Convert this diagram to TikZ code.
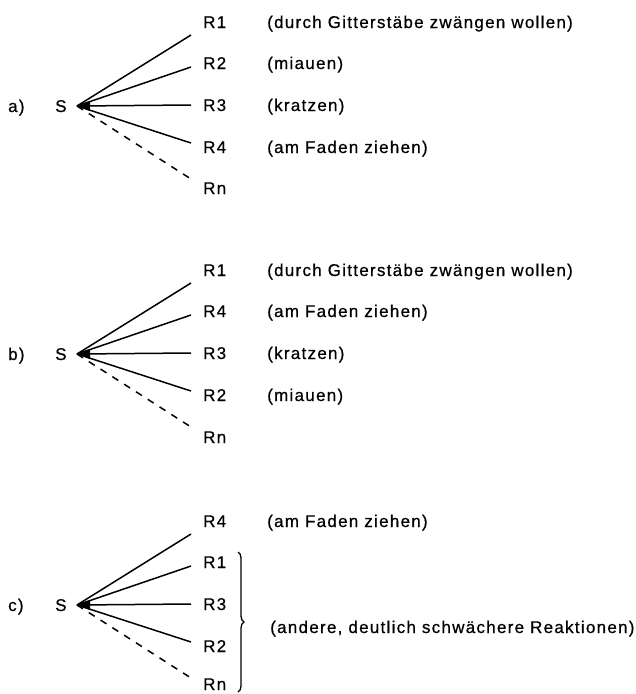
\documentclass[tikz,border=0pt]{standalone}
\usepackage{fontspec}
\setmainfont[LetterSpace=7.5, FakeBold=0.6]{Liberation Sans}
\usetikzlibrary{decorations.pathreplacing}

\tikzset{
  txt/.style={inner sep=0pt, anchor=base west, font=\fontsize{17}{20}\selectfont},
  fanline/.style={line width=1.5pt},
  fandash/.style={line width=1.5pt, dash pattern=on 7pt off 7pt},
  tipblob/.style={fill=black, draw=none},
}

% one stimulus S fanning out to five responses;
% #1 = prefix, #2..#6 = response labels, #7 = baseline of the last label
\newcommand{\srfan}[7]{%
  \node[txt] (#1lab) at (8,6) {#1)};
  \node[txt] (#1S) at (55,6) {S};
  \coordinate (#1T) at (77,0);
  \fill[tipblob] (#1T) -- (90,-5) -- (90,5) -- cycle;
  \node[txt] (#1R1) at (203,-78) {#2};
  \node[txt] (#1R2) at (203,-37) {#3};
  \node[txt] (#1R3) at (203,5)   {#4};
  \node[txt] (#1R4) at (203,47)  {#5};
  \node[txt] (#1R5) at (203,#7)  {#6};
  \coordinate (#1E1) at (191,-71);
  \coordinate (#1E2) at (191,-39);
  \coordinate (#1E3) at (191,-1);
  \coordinate (#1E4) at (191,37);
  \coordinate (#1E5) at (191,73);
  \draw[fanline] (#1T) -- (#1E1);
  \draw[fanline] (#1T) -- (#1E2);
  \draw[fanline] (#1T) -- (#1E3);
  \draw[fanline] (#1T) -- (#1E4);
  \draw[fandash] (#1T) -- (#1E5);
}

\begin{document}
\begin{tikzpicture}[x=1pt, y=-1pt]
\useasboundingbox (0,0) rectangle (636,694);

\begin{scope}[yshift=-106pt]
  \srfan{a}{R1}{R2}{R3}{R4}{Rn}{88}
  \node[txt] (aD1) at (267,-78) {(durch Gitterstäbe zwängen wollen)};
  \node[txt] (aD2) at (267,-37) {(miauen)};
  \node[txt] (aD3) at (267,5)   {(kratzen)};
  \node[txt] (aD4) at (267,47)  {(am Faden ziehen)};
\end{scope}

\begin{scope}[yshift=-354pt]
  \srfan{b}{R1}{R4}{R3}{R2}{Rn}{89}
  \node[txt] (bD1) at (267,-78) {(durch Gitterstäbe zwängen wollen)};
  \node[txt] (bD2) at (267,-37) {(am Faden ziehen)};
  \node[txt] (bD3) at (267,5)   {(kratzen)};
  \node[txt] (bD4) at (267,47)  {(miauen)};
\end{scope}

\begin{scope}[yshift=-605pt]
  \srfan{c}{R4}{R1}{R3}{R2}{Rn}{85}
  \node[txt] (cD1) at (267,-78) {(am Faden ziehen)};
  \coordinate (cBt) at (238,-53);
  \coordinate (cBb) at (238,87);
  \draw[line width=1.3pt, decorate, decoration={brace, amplitude=6pt}] (cBt) -- (cBb);
  \node[txt] (cD2) at (270,28) {(andere, deutlich schwächere Reaktionen)};
\end{scope}
\end{tikzpicture}
\end{document}
